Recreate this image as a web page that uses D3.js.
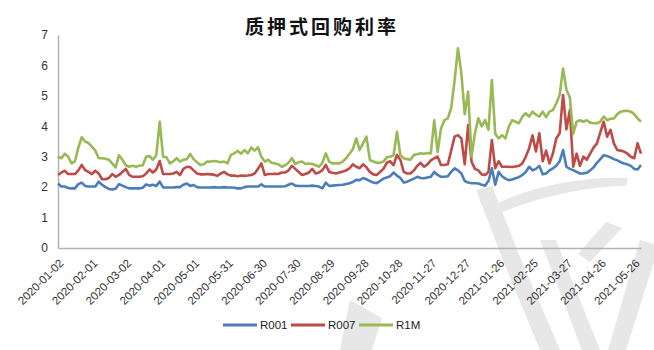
<!DOCTYPE html>
<html>
<head>
<meta charset="utf-8">
<script src="https://cdn.jsdelivr.net/npm/d3@7"></script>
<style>
  body { margin: 0; background: #fff; }
  svg { display: block; }
</style>
</head>
<body>
<div id="chart"></div>
<script>
// categories: one sample every 3 days, 2020-01-02 .. 2021-06-01
const startDay = '2020-01-02';
const endDay = '2021-06-01';
const stepDays = 3;

const tickLabels = [
  '2020-01-02', '2020-02-01', '2020-03-02', '2020-04-01', '2020-05-01', '2020-05-31',
  '2020-06-30', '2020-07-30', '2020-08-29', '2020-09-28', '2020-10-28', '2020-11-27',
  '2020-12-27', '2021-01-26', '2021-02-25', '2021-03-27', '2021-04-26', '2021-05-26'
];
const yTicks = [0, 1, 2, 3, 4, 5, 6, 7];

const seriesNames = ['R001', 'R007', 'R1M'];
const seriesColors = ['#4a7ebb', '#be4b48', '#98b954'];

const r001 = [
  2.12, 2.02, 2.02, 1.97, 1.96, 1.96, 2.1, 2.15, 2.04, 2.02,
  2.02, 2.02, 2.18, 2.08, 2.0, 1.94, 1.92, 1.95, 2.1, 2.05,
  2.0, 1.96, 1.96, 1.96, 1.96, 1.98, 2.09, 2.05, 2.08, 2.04,
  2.18, 1.99, 1.99, 1.99, 1.99, 2.0, 2.0, 2.08, 2.12, 2.04,
  2.07, 2.0, 1.99, 1.99, 1.99, 1.99, 2.0, 1.99, 1.99, 2.0,
  1.99, 1.99, 1.98, 1.96, 1.96, 2.0, 2.02, 2.02, 2.02, 2.02,
  2.09, 2.02, 2.02, 2.02, 2.02, 2.02, 2.02, 2.03, 2.08, 2.12,
  2.05, 2.04, 2.04, 2.04, 2.04, 2.05, 2.04, 2.02, 1.96, 2.15,
  2.04, 2.05, 2.06, 2.07, 2.08, 2.1, 2.13, 2.17, 2.24, 2.23,
  2.3, 2.26, 2.2, 2.15, 2.13, 2.2, 2.28, 2.32, 2.36, 2.48,
  2.38, 2.3, 2.15, 2.18, 2.23, 2.28, 2.34, 2.3, 2.29, 2.32,
  2.34, 2.5, 2.4, 2.34, 2.34, 2.36, 2.5, 2.62, 2.55, 2.45,
  2.2, 2.15, 2.13, 2.13, 2.12, 2.08, 2.05, 2.2, 2.62, 2.08,
  2.5, 2.36, 2.28, 2.23, 2.25, 2.29, 2.33, 2.4, 2.5, 2.67,
  2.55, 2.6, 2.7, 2.42, 2.45, 2.55, 2.62, 2.7, 2.85, 3.22,
  2.67, 2.6, 2.56, 2.5, 2.45, 2.45, 2.47, 2.55, 2.65, 2.8,
  2.92, 3.05, 3.02, 2.98, 2.92, 2.88, 2.82, 2.78, 2.75, 2.7,
  2.6, 2.58, 2.73
];

const r007 = [
  2.4, 2.48, 2.54, 2.43, 2.43, 2.43, 2.55, 2.73, 2.56, 2.5,
  2.43, 2.54, 2.45, 2.26, 2.26, 2.3, 2.43, 2.34, 2.4, 2.5,
  2.6, 2.4, 2.34, 2.34, 2.34, 2.36, 2.45, 2.58, 2.48, 2.58,
  2.86, 2.43, 2.43, 2.43, 2.45, 2.5, 2.4, 2.6, 2.67, 2.66,
  2.55, 2.45, 2.42, 2.42, 2.43, 2.42, 2.41, 2.37, 2.45, 2.5,
  2.42, 2.38, 2.38, 2.36, 2.38, 2.37, 2.38, 2.4, 2.45, 2.6,
  2.78, 2.4, 2.43, 2.43, 2.44, 2.43, 2.48, 2.48, 2.55, 2.7,
  2.6, 2.5, 2.4, 2.43, 2.48, 2.6, 2.45, 2.48, 2.56, 2.73,
  2.5, 2.47, 2.45, 2.48, 2.51, 2.55, 2.62, 2.75, 2.67, 2.62,
  2.75, 2.65, 2.5, 2.42, 2.4, 2.5, 2.6, 2.8, 2.85, 2.72,
  3.06, 2.9, 2.5, 2.45, 2.45, 2.55, 2.7, 2.8, 2.67, 2.75,
  2.88, 2.95, 3.0, 2.73, 2.73, 2.75, 3.2, 3.66, 3.71, 3.6,
  2.75, 4.04, 2.84, 2.6, 2.55, 2.42, 2.4, 2.5, 3.55, 2.62,
  2.85, 2.67, 2.67, 2.67, 2.66, 2.68, 2.7, 2.78, 3.0, 3.28,
  3.7, 3.17, 3.77, 2.85, 3.2, 2.78, 3.1, 3.6, 3.77, 5.03,
  3.9, 4.53, 2.67, 3.1, 2.7, 3.0, 2.9, 3.1, 3.3, 3.44,
  3.8, 4.15, 3.66, 3.88, 3.44, 3.22, 3.2, 3.17, 3.1, 3.0,
  2.95, 3.44, 3.1
];

const r1m = [
  3.0, 2.95, 3.1, 3.0, 2.78, 2.85, 3.3, 3.64, 3.5, 3.45,
  3.33, 3.2, 2.95, 2.95, 2.93, 2.9, 2.78, 2.65, 3.05, 2.9,
  2.72, 2.67, 2.7, 2.67, 2.7, 2.72, 3.0, 3.02, 2.9, 3.05,
  4.15, 3.0, 2.98, 2.78, 2.85, 2.95, 2.84, 2.9, 2.92, 3.09,
  2.92, 2.82, 2.73, 2.75, 2.84, 2.84, 2.86, 2.84, 2.82, 2.84,
  2.78, 3.06, 3.11, 3.19, 3.1, 3.22, 3.11, 3.3, 3.2, 3.31,
  3.0, 2.84, 2.9, 2.8, 2.78, 2.75, 2.67, 2.72, 2.8, 2.95,
  2.76, 2.82, 2.84, 2.76, 2.78, 2.76, 2.72, 2.67, 2.8, 3.11,
  2.84, 2.78, 2.78, 2.78, 2.84, 2.95, 3.1, 3.25, 3.6, 3.22,
  3.44, 3.66, 2.9, 2.84, 2.8, 2.8, 2.84, 2.98, 3.0, 3.05,
  3.82, 3.05, 2.95, 2.92, 2.9, 3.06, 3.08, 3.11, 3.1, 3.12,
  3.11, 4.2, 3.15, 3.93, 4.2, 4.26, 4.6, 5.5, 6.56, 5.74,
  4.4, 5.14, 3.0, 3.77, 4.26, 4.0, 4.2, 3.88, 5.52, 3.75,
  3.6, 3.71, 3.6, 3.99, 4.2, 4.15, 4.1, 4.32, 4.43, 4.32,
  4.48, 4.38, 4.32, 4.48, 4.3, 4.48, 4.53, 4.75, 5.03, 5.9,
  5.2, 4.95, 3.75, 4.15, 4.2, 4.15, 4.2, 4.12, 4.1, 4.1,
  4.15, 4.32, 4.2, 4.25, 4.26, 4.4, 4.48, 4.5, 4.51, 4.48,
  4.4, 4.26, 4.15
];

const width = 654;
const height = 350;
const margin = { top: 35, right: 13, bottom: 102, left: 58 };
const font = "'Liberation Sans Narrow', 'Arial Narrow', 'Liberation Sans', sans-serif";

const parseDay = d3.utcParse('%Y-%m-%d');
const dates = d3.utcDay.range(parseDay(startDay), d3.utcDay.offset(parseDay(endDay), 1), stepDays);
const series = [r001, r007, r1m].map((vals, i) => ({
  name: seriesNames[i],
  color: seriesColors[i],
  points: vals.map((v, j) => ({ date: dates[j], value: v })).filter(p => p.date)
}));

const svg = d3.select('#chart')
  .append('svg')
  .attr('width', width)
  .attr('height', height);

// faint watermark strokes behind the chart
const mark = svg.append('g').attr('fill', '#e3e3e3').attr('opacity', 0.85);
[
  'M476,190 L492,186 L522,262 L560,350 L540,350 L506,268 Z',
  'M492,206 C530,186 585,176 628,178 L626,186 C585,186 535,198 498,214 Z',
  'M540,240 L556,240 L600,350 L582,350 Z',
  'M640,240 L654,244 L654,262 L626,350 L608,350 Z',
  'M350,300 L382,318 L372,350 L340,350 Z',
  'M606,222 L622,228 L590,262 L578,254 Z'
].forEach(d => mark.append('path').attr('d', d));

const x = d3.scaleUtc()
  .domain([dates[0], dates[dates.length - 1]])
  .range([margin.left, width - margin.right]);

const y = d3.scaleLinear()
  .domain([0, 7])
  .range([height - margin.bottom, margin.top]);

// TITLE
svg.append('text')
  .attr('x', 322)
  .attr('y', 34)
  .attr('text-anchor', 'middle')
  .attr('font-family', "'Noto Sans CJK SC', sans-serif")
  .attr('font-weight', 700)
  .attr('font-size', 19)
  .attr('letter-spacing', 3)
  .attr('fill', '#111')
  .text('质押式回购利率');

// AXES
const yAxis = d3.axisLeft(y)
  .tickValues(yTicks)
  .tickSize(0)
  .tickSizeOuter(0)
  .tickPadding(10)
  .tickFormat(d3.format('d'));

svg.append('g')
  .attr('transform', `translate(${margin.left}, 0)`)
  .call(yAxis)
  .call(g => g.select('.domain').attr('stroke', '#b3b3b3').attr('stroke-width', 1.5))
  .call(g => g.selectAll('text')
    .attr('font-family', font)
    .attr('font-size', 12)
    .attr('fill', '#333'));

const xAxis = d3.axisBottom(x)
  .tickValues(tickLabels.map(parseDay))
  .tickSize(0)
  .tickSizeOuter(0)
  .tickFormat(d3.utcFormat('%Y-%m-%d'));

svg.append('g')
  .attr('transform', `translate(0, ${height - margin.bottom})`)
  .call(xAxis)
  .call(g => g.select('.domain').attr('stroke', '#b3b3b3').attr('stroke-width', 1.5))
  .call(g => g.selectAll('text')
    .attr('font-family', font)
    .attr('font-size', 11.5)
    .attr('fill', '#333')
    .attr('text-anchor', 'end')
    .attr('dy', '0.35em')
    .attr('y', 0)
    .attr('transform', 'translate(3, 13) rotate(-45)'));

// LINES
const line = d3.line()
  .x(d => x(d.date))
  .y(d => y(d.value));

svg.append('g')
  .selectAll('path')
  .data(series)
  .enter()
  .append('path')
  .attr('fill', 'none')
  .attr('stroke', d => d.color)
  .attr('stroke-width', 2.6)
  .attr('stroke-linejoin', 'round')
  .attr('d', d => line(d.points));

// LEGEND
const legend = svg.append('g')
  .attr('transform', 'translate(223, 325)');

const items = legend.selectAll('g')
  .data(series)
  .enter()
  .append('g')
  .attr('transform', (d, i) => `translate(${i * 68}, 0)`);

items.append('line')
  .attr('x1', 0)
  .attr('x2', 34)
  .attr('stroke', d => d.color)
  .attr('stroke-width', 3);

items.append('text')
  .attr('x', 37)
  .attr('dy', '0.35em')
  .attr('font-family', font)
  .attr('font-size', 11.5)
  .attr('fill', '#222')
  .text(d => d.name);
</script>
</body>
</html>
